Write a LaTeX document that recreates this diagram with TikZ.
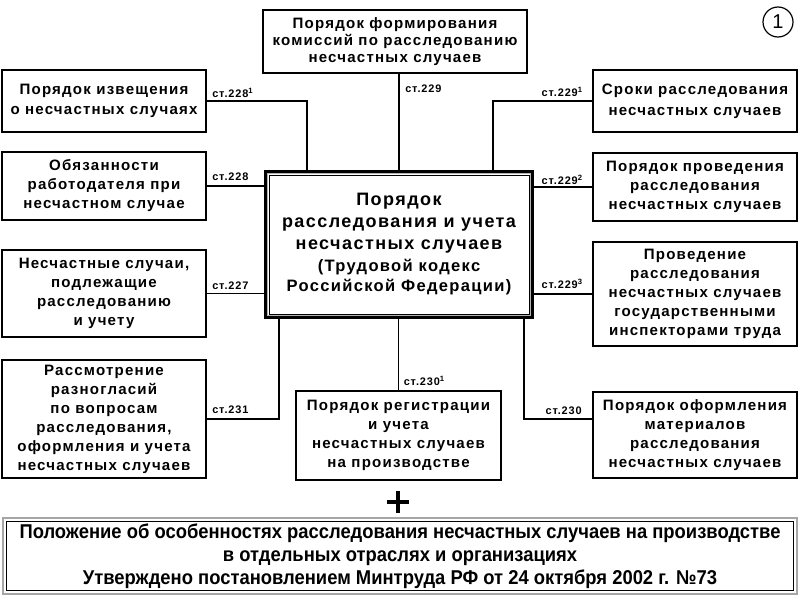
\documentclass[tikz,border=0pt]{standalone}
\usepackage{fontspec}
\setmainfont{Liberation Sans}[LetterSpace=8]
\newfontfamily\narrowfont[FakeStretch=0.92]{Liberation Sans}
\usetikzlibrary{calc}
\tikzset{
  box/.style={draw, line width=1.5pt, align=center, inner sep=0pt,
    font=\bfseries\fontsize{11.3}{14.25}\selectfont},
  bigbox/.style={box, font=\bfseries\fontsize{11.3}{15.5}\selectfont},
  sz/.style 2 args={minimum width=#1*0.75pt, minimum height=#2*0.75pt},
  conn/.style={line width=1.3pt},
  lbl/.style={font=\bfseries\fontsize{8.2}{10}\selectfont, inner sep=0pt},
}
\begin{document}
\begin{tikzpicture}[x=0.75pt,y=-0.75pt]
\useasboundingbox (0,0) rectangle (800,600);
% boxes
\node[box, sz={264}{63}, font=\bfseries\fontsize{11.3}{12.75}\selectfont] (T) at (395,41.5)
  {Порядок формирования\\комиссий по расследованию\\несчастных случаев};
\node[bigbox, sz={204}{62}] (L1) at (104,101) {Порядок извещения\\о несчастных случаях};
\node[box, sz={204}{68}] (L2) at (104,186) {Обязанности\\работодателя при\\несчастном случае};
\node[box, sz={204}{87}] (L3) at (104,293.5) {Несчастные случаи,\\подлежащие\\расследованию\\и учету};
\node[box, sz={204}{118}] (L4) at (104,419) {Рассмотрение\\разногласий\\по вопросам\\расследования,\\оформления и учета\\несчастных случаев};
\node[bigbox, sz={204}{62}] (R1) at (695,101) {Сроки расследования\\несчастных случаев};
\node[box, sz={204}{68}] (R2) at (695,187) {Порядок проведения\\расследования\\несчастных случаев};
\node[box, sz={204}{104}] (R3) at (695,294) {Проведение\\расследования\\несчастных случаев\\государственными\\инспекторами труда};
\node[box, sz={204}{86}] (R4) at (695,435) {Порядок оформления\\материалов\\расследования\\несчастных случаев};
\node[box, sz={205}{89}] (B) at (398.5,435.5) {Порядок регистрации\\и учета\\несчастных случаев\\на производстве};
% center box
\node[draw, line width=3pt, sz={266}{145}, align=center, inner sep=0pt,
  font=\bfseries\fontsize{13.5}{16.5}\selectfont] (C) at (399,244.5)
  {Порядок\\
   расследования и учета\\
   несчастных случаев\\
   {\fontsize{12.4}{15}\selectfont (Трудовой кодекс}\\[-1.5pt]
   {\fontsize{12.4}{15}\selectfont Российской Федерации)}};
\draw[gray!60, line width=1.4pt] ($(C.north west)+(3.5,3.5)$) rectangle ($(C.south east)+(-3.5,-3.5)$);
\draw[line width=0.7pt] ($(C.north west)+(5,5)$) rectangle ($(C.south east)+(-5,-5)$);
% bottom box
\node[draw=gray!70, line width=1.2pt, sz={794}{76}, align=center, inner sep=0pt,
  font=\narrowfont\bfseries\fontsize{15}{17.4}\selectfont] (P) at (400,556)
  {Положение об особенностях расследования несчастных случаев на производстве\\
   в отдельных отраслях и организациях\\
   Утверждено постановлением Минтруда РФ от 24 октября 2002 г. №73};
\draw[line width=1pt] ($(P.north west)+(4,4)$) rectangle ($(P.south east)+(-4,-4)$);
% circle number
\node[circle, draw, line width=0.9pt, minimum size=30*0.75pt, inner sep=0pt,
  font=\fontsize{15}{15}\selectfont] (N) at (778,22) {1};
% plus sign
\draw[line width=3.6pt] (387,502) -- (409,502);
\draw[line width=3.6pt] (398,491) -- (398,513);
% connectors
\draw[conn] (L1.east) -| ($(C.north)+(-92,0)$);
\draw[conn] (L2.east) -- (L2.east -| C.west);
\draw[conn] (L3.east) -- (L3.east -| C.west);
\draw[conn] (L4.east) -| ($(C.south)+(-120,0)$);
\draw[conn] (C.north) -- (C.north |- T.south);
\draw[conn] (R1.west) -| ($(C.north)+(94,0)$);
\draw[conn] (R2.west) -- (R2.west -| C.east);
\draw[conn] (R3.west) -- (R3.west -| C.east);
\draw[conn] ($(R4.west)+(0,-16)$) -| ($(C.south)+(125,0)$);
\draw[conn] (B.north) -- (B.north |- C.south);
% labels
\node[lbl, anchor=south west] (a1) at ($(L1.east)+(5,-3)$) {ст.228\textsuperscript{1}};
\node[lbl, anchor=south west] (a2) at ($(L2.east)+(5,-5)$) {ст.228};
\node[lbl, anchor=south west] (a3) at ($(L3.east)+(5,-4)$) {ст.227};
\node[lbl, anchor=south west] (a4) at ($(L4.east)+(5,-5)$) {ст.231};
\node[lbl, anchor=south west] (a5) at ($(T.south)+(10,19)$) {ст.229};
\node[lbl, anchor=south east] (a6) at ($(R1.west)+(-9,-4)$) {ст.229\textsuperscript{1}};
\node[lbl, anchor=south east] (a7) at ($(R2.west)+(-9,-2)$) {ст.229\textsuperscript{2}};
\node[lbl, anchor=south east] (a8) at ($(R3.west)+(-9,-5)$) {ст.229\textsuperscript{3}};
\node[lbl, anchor=south east] (a9) at ($(R4.west)+(-10,-20)$) {ст.230};
\node[lbl, anchor=south west] (a10) at ($(B.north)+(5,-4)$) {ст.230\textsuperscript{1}};
\end{tikzpicture}
\end{document}
